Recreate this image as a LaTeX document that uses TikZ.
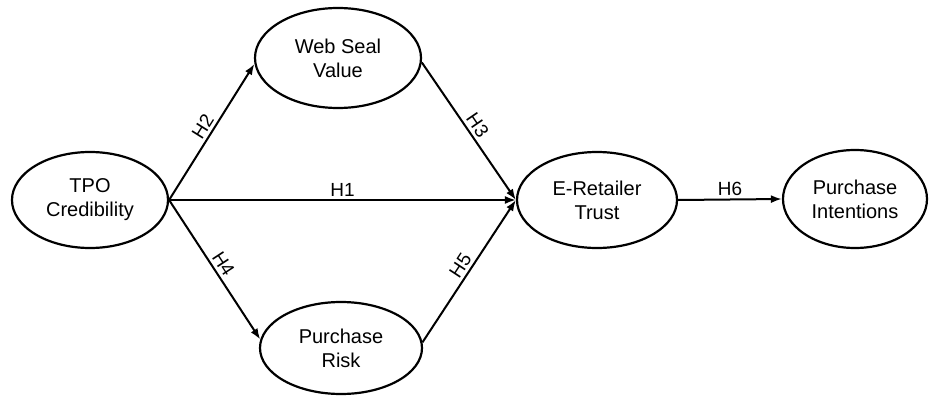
\documentclass[tikz,border=0pt]{standalone}
\usepackage{fontspec}
\setmainfont{Liberation Sans}
\usetikzlibrary{shapes.geometric,arrows.meta}

\tikzset{
  construct/.style={ellipse, draw, line width=2.2pt, inner sep=0pt, align=center,
    font=\fontsize{20}{24}\selectfont},
  path/.style={line width=2pt, -{Latex[length=11pt,width=8pt]}},
  hyp/.style={sloped, above, pos=0.5, inner sep=3pt, font=\fontsize{19}{22}\selectfont}
}

\begin{document}
\begin{tikzpicture}[x=1pt,y=-1pt]
  \useasboundingbox (0,0) rectangle (929,396);

  % latent constructs
  \node[construct, minimum width=156pt, minimum height=96pt]  (tpo) at (90,200)  {TPO\\Credibility};
  \node[construct, minimum width=166pt, minimum height=100pt] (wsv) at (338,58)  {Web Seal\\Value};
  \node[construct, minimum width=162pt, minimum height=92pt]  (pr)  at (341,348) {Purchase\\Risk};
  \node[construct, minimum width=160pt, minimum height=96pt]  (er)  at (597,200) {E-Retailer\\Trust};
  \node[construct, minimum width=144pt, minimum height=98pt]  (pi)  at (855,199) {Purchase\\Intentions};

  % hypothesised paths
  \draw[path] (tpo.east) -- node[hyp] {H1} (er.west);
  \draw[path] (tpo.east) -- node[hyp] {H2} (wsv.184);
  \draw[path] (tpo.east) -- node[hyp] {H4} (pr.174);
  \draw[path] (wsv.357) -- node[hyp] {H3} (er.west);
  \draw[path] (pr.4) -- node[hyp] {H5} (er.west);
  \draw[path] (er.east) -- node[hyp] {H6} (pi.west);
\end{tikzpicture}
\end{document}
